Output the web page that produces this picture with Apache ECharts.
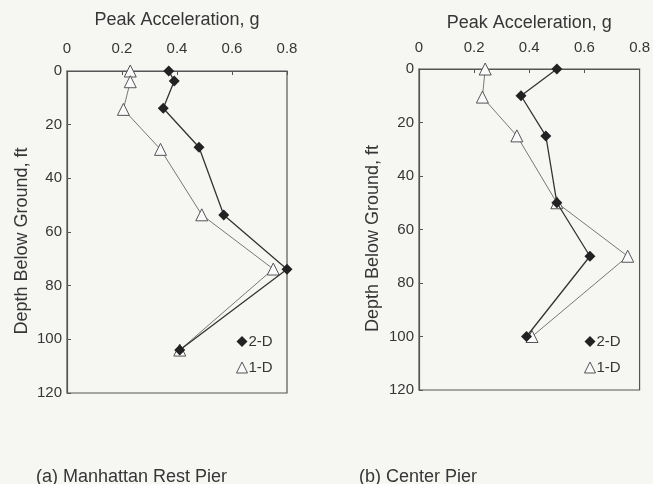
<!DOCTYPE html>
<html><head><meta charset="utf-8">
<script src="https://cdn.jsdelivr.net/npm/echarts@6/dist/echarts.min.js"></script>
<style>html,body{margin:0;padding:0;background:#f6f6f3;}#c{width:653px;height:484px;}</style>
</head><body><div id="c"></div>
<script>
// Panel (a) Manhattan Rest Pier
const depthA2D = [0, 3.7, 13.9, 28.4, 53.7, 73.9, 104];
const accA2D   = [0.37, 0.39, 0.35, 0.48, 0.57, 0.80, 0.41];
const depthA1D = [0, 4, 14.3, 29.2, 53.6, 73.8, 104];
const accA1D   = [0.23, 0.23, 0.205, 0.34, 0.49, 0.75, 0.41];
// Panel (b) Center Pier
const depthB2D = [0, 10, 25, 50, 70, 100];
const accB2D   = [0.50, 0.37, 0.46, 0.50, 0.62, 0.39];
const depthB1D = [0, 10.5, 25, 50, 70, 100];
const accB1D   = [0.24, 0.23, 0.355, 0.50, 0.757, 0.41];
const xTicks = [0, 0.2, 0.4, 0.6, 0.8];
const yTicks = [0, 20, 40, 60, 80, 100, 120];
const captions = ['(a) Manhattan Rest Pier', '(b) Center Pier'];

const font = 'Liberation Sans, Arial, sans-serif';
const txt = '#363636';
const pair = (xs, ys) => xs.map((v, i) => [v, ys[i]]);

function xAx(i, gap, margin) {
  return {
    gridIndex: i, type: 'value', position: 'top', min: 0, max: 0.8, interval: 0.2,
    name: 'Peak Acceleration, g', nameLocation: 'middle', nameGap: gap,
    nameTextStyle: { color: txt, fontSize: 18, fontFamily: font },
    axisLine: { show: true, lineStyle: { color: '#555', width: 1.2 } },
    axisTick: { show: true, inside: true, length: 4, lineStyle: { color: '#555' } },
    axisLabel: { color: txt, fontSize: 15, fontFamily: font, margin: margin,
      formatter: v => xTicks.includes(+v.toFixed(1)) ? String(+v.toFixed(1)) : '' },
    splitLine: { show: false }
  };
}
function yAx(i, gap) {
  return {
    gridIndex: i, type: 'value', inverse: true, min: 0, max: 120, interval: 20,
    name: 'Depth Below Ground, ft', nameLocation: 'middle', nameGap: gap, nameRotate: 90,
    nameTextStyle: { color: txt, fontSize: 18, fontFamily: font, padding: [0, 18, 0, 0] },
    axisLine: { show: true, lineStyle: { color: '#555', width: 1.2 } },
    axisTick: { show: true, inside: true, length: 4, lineStyle: { color: '#555' } },
    axisLabel: { color: txt, fontSize: 15, fontFamily: font, margin: 5,
      formatter: v => yTicks.includes(v) ? String(v) : '' },
    splitLine: { show: false }
  };
}
function s2(name, data, i) {
  return { name, type: 'line', xAxisIndex: i, yAxisIndex: i, data,
    symbol: 'diamond', symbolSize: 11,
    itemStyle: { color: '#222' }, lineStyle: { color: '#333', width: 1.3 }, z: 3 };
}
function s1(name, data, i) {
  return { name, type: 'line', xAxisIndex: i, yAxisIndex: i, data,
    symbol: 'triangle', symbolSize: 12,
    itemStyle: { color: '#fafafa', borderColor: '#555', borderWidth: 1 },
    lineStyle: { color: '#777', width: 1 }, z: 2 };
}
function leg(left, top) {
  return { left, top, orient: 'vertical', itemGap: 11, itemWidth: 11, itemHeight: 11,
    data: [{ name: '2-D', icon: 'diamond', itemStyle: { color: '#222' } },
           { name: '1-D', icon: 'triangle', itemStyle: { color: '#fafafa', borderColor: '#555', borderWidth: 1 } }],
    textStyle: { color: txt, fontSize: 15, fontFamily: font, padding: [0, 0, 0, -4] },
    selectedMode: false };
}

const chart = echarts.init(document.getElementById('c'), null, { renderer: 'canvas' });
chart.setOption({
  backgroundColor: '#f6f6f3',
  animation: false,
  grid: [
    { left: 67, top: 71, width: 220, height: 322, show: true, borderColor: '#555', borderWidth: 1.2, backgroundColor: 'transparent' },
    { left: 419, top: 69, width: 223, height: 321, show: true, borderColor: '#555', borderWidth: 1.2, backgroundColor: 'transparent' }
  ],
  xAxis: [xAx(0, 42, 15), xAx(1, 37, 14)],
  yAxis: [yAx(0, 36), yAx(1, 37)],
  legend: [leg(231, 329), leg(579, 329)],
  title: [
    { text: captions[0], left: 31, top: 463, textStyle: { color: txt, fontSize: 18, fontWeight: 'normal', fontFamily: font } },
    { text: captions[1], left: 354, top: 463, textStyle: { color: txt, fontSize: 18, fontWeight: 'normal', fontFamily: font } }
  ],
  series: [
    s1('1-D', pair(accA1D, depthA1D), 0),
    s2('2-D', pair(accA2D, depthA2D), 0),
    s1('1-D', pair(accB1D, depthB1D), 1),
    s2('2-D', pair(accB2D, depthB2D), 1)
  ]
});
</script></body></html>
